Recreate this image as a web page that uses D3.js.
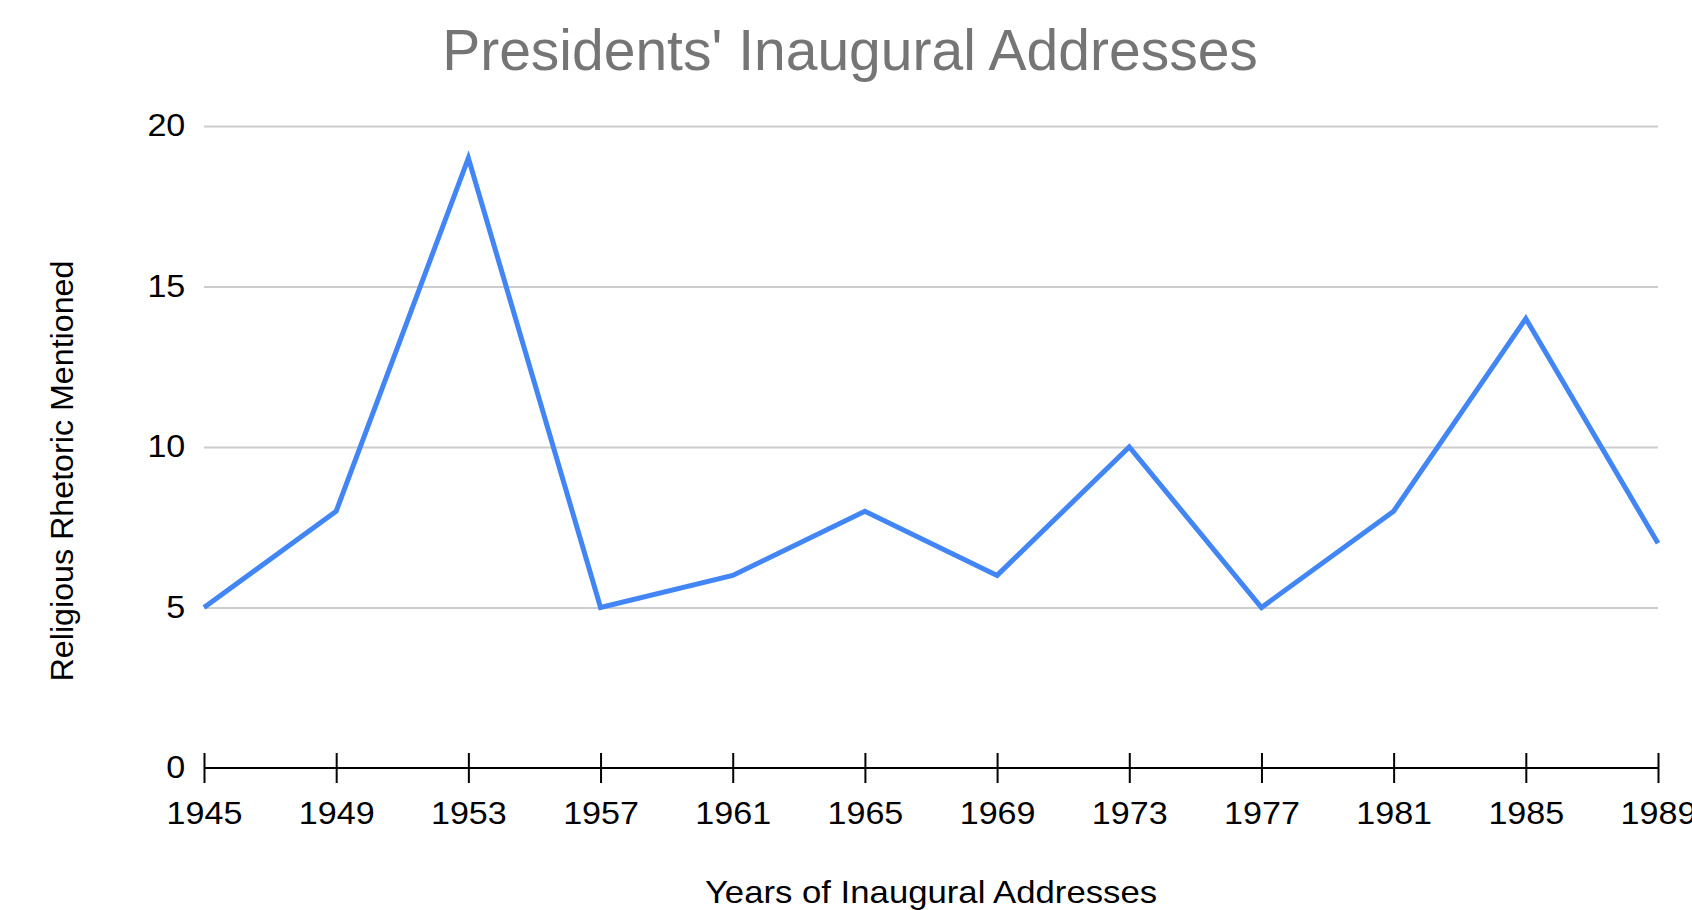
<!DOCTYPE html>
<html>
<head>
<meta charset="utf-8">
<script src="https://cdn.jsdelivr.net/npm/d3@7"></script>
<style>
  body { margin: 0; background: #fff; }
  text { font-family: "Liberation Sans", Arial, sans-serif; }
</style>
</head>
<body>
<svg id="chart" width="1692" height="910"></svg>
<script>
// data
const years = [1945, 1949, 1953, 1957, 1961, 1965, 1969, 1973, 1977, 1981, 1985, 1989];
const mentions = [5, 8, 19, 5, 6, 8, 6, 10, 5, 8, 14, 7];
const yTicks = [0, 5, 10, 15, 20];

const title = "Presidents' Inaugural Addresses";
const xTitle = "Years of Inaugural Addresses";
const yTitle = "Religious Rhetoric Mentioned";

const svg = d3.select("#chart");
const plotLeft = 204, plotRight = 1658, plotTop = 126, plotBottom = 768;
// the source text renders a little wider than Liberation Sans
const stretch = 1.1;

const x = d3.scaleLinear().domain([years[0], years[years.length - 1]]).range([plotLeft, plotRight]);
const y = d3.scaleLinear().domain([0, 20]).range([plotBottom, plotTop]);

// gridlines + y labels
const gy = svg.append("g")
    .attr("transform", `translate(${plotLeft},0)`)
    .call(d3.axisLeft(y).tickValues(yTicks).tickSize(-(plotRight - plotLeft)).tickPadding(17));
gy.select(".domain").remove();
gy.selectAll(".tick line").attr("stroke", "#cccccc").attr("stroke-width", 2)
    .filter(d => d === 0).remove();
gy.selectAll(".tick text")
    .attr("fill", "#000")
    .attr("font-size", 31)
    .attr("font-family", "Liberation Sans, Arial, sans-serif")
    .attr("transform", `scale(${stretch},1)`);

// x axis with ticks crossing the line
const gx = svg.append("g")
    .attr("transform", `translate(0,${plotBottom})`)
    .call(d3.axisBottom(x).tickValues(years).tickFormat(d3.format("d")).tickSize(15).tickPadding(19));
gx.select(".domain").attr("stroke", "#000").attr("stroke-width", 2)
    .attr("d", `M${plotLeft},0H${plotRight}`);
gx.selectAll(".tick line").attr("stroke", "#000").attr("stroke-width", 2).attr("y1", -15);
gx.selectAll(".tick text")
    .attr("fill", "#000")
    .attr("font-size", 31)
    .attr("font-family", "Liberation Sans, Arial, sans-serif")
    .attr("transform", `scale(${stretch},1)`);

// the series
const line = d3.line()
    .x((d, i) => x(years[i]))
    .y(d => y(d));

svg.append("path")
    .datum(mentions)
    .attr("d", line)
    .attr("fill", "none")
    .attr("stroke", "#4285f4")
    .attr("stroke-width", 5);

// titles
svg.append("text")
    .attr("x", 850).attr("y", 70)
    .attr("text-anchor", "middle")
    .attr("font-size", 57)
    .attr("fill", "#757575")
    .text(title);

svg.append("text")
    .attr("transform", `translate(${(plotLeft + plotRight) / 2},903) scale(1.12,1)`)
    .attr("text-anchor", "middle")
    .attr("font-size", 31)
    .attr("fill", "#000")
    .text(xTitle);

svg.append("text")
    .attr("transform", "translate(73,471) rotate(-90) scale(1.04,1)")
    .attr("text-anchor", "middle")
    .attr("font-size", 31)
    .attr("fill", "#000")
    .text(yTitle);
</script>
</body>
</html>
